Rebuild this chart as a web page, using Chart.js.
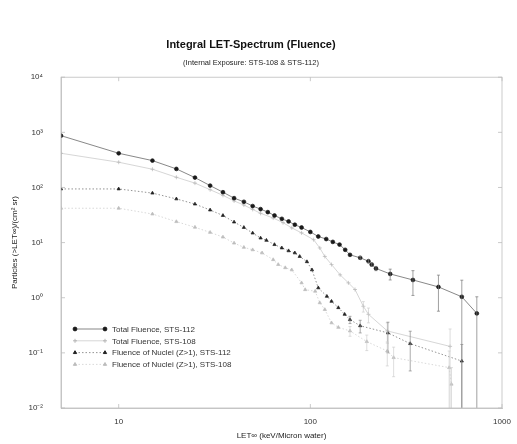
<!DOCTYPE html>
<html>
<head>
<meta charset="utf-8">
<script src="https://cdn.jsdelivr.net/npm/chart.js@4/dist/chart.umd.min.js"></script>
<style>
  html, body { margin: 0; padding: 0; background: #fff; }
  canvas { display: block; }
</style>
</head>
<body>
<canvas id="c" width="517" height="444"></canvas>
<script>
// ── DATOS ──────────────────────────────────────
const SERIES_NAMES = [
  'Total Fluence, STS-112',
  'Total Fluence, STS-108',
  'Fluence of Nuclei (Z>1), STS-112',
  'Fluence of Nuclei (Z>1), STS-108'
];

// Total Fluence, STS-112
const tot112X = [5,10,15,20,25,30,35,40,45,50,55,60,65,71,77,83,90,100,110,121,131,142,152,161,182,201,209,220,261,343,466,617,739];
const tot112Y = [870,417,307,217,151,108,82,64,55,46,40.5,35.7,31,27,24.2,21.1,18.8,15.6,12.9,11.6,10.3,9.2,7.4,6.0,5.3,4.6,4.0,3.4,2.7,2.1,1.57,1.04,0.52];
const tot112E = [0,0,0,0,0,0,0,0,0,0,0,0,0,0,0,0,0,0,0,0,0,0,0,0,0.3,0.3,0.3,0.3,0.6,1.0,1.0,1.04,0.52];

// Total Fluence, STS-108
const tot108X = [5,10,15,20,25,30,35,40,45,50,55,64,72,80,90,104,112,119,129,143,158,171,189,201,252,536];
const tot108Y = [417,287,214,153,120,91,72,57,48,40,34,27.9,23,18.5,15,11.3,8.0,5.6,4.0,2.6,1.86,1.41,0.70,0.50,0.25,0.131];
const tot108E = [0,0,0,0,0,0,0,0,0,0,0,0,0,0,0,0,0,0,0,0,0,0,0.15,0.15,0.1,0.14];

// Fluence of Nuclei (Z>1), STS-112
const nuc112X = [5,10,15,20,25,30,35,40,45,50,55,59,65,71,77,83,88,96,102,110,122,129,140,151,161,182,254,332,617];
const nuc112Y = [94,94,79,62,50,39,31,23.6,18.8,14.9,12.1,11.0,9.2,8.0,7.1,6.5,5.6,4.5,3.2,1.51,1.06,0.86,0.66,0.50,0.40,0.31,0.23,0.147,0.071];
const nuc112E = [0,0,0,0,0,0,0,0,0,0,0,0,0,0,0,0,0,0,0,0,0,0,0,0,0.06,0.08,0.13,0.1,0.071];

// Fluence of Nuclei (Z>1), STS-108
const nuc108X = [5,10,15,20,25,30,35,40,45,50,56,64,68,74,80,90,94,106,112,119,129,140,161,197,252,272,530,545];
const nuc108Y = [42,42,33,24,19,15.3,12.6,9.8,8.2,7.4,6.5,4.9,4.0,3.5,3.2,1.86,1.4,1.31,0.81,0.61,0.35,0.29,0.25,0.16,0.108,0.082,0.054,0.027];
const nuc108E = [0,0,0,0,0,0,0,0,0,0,0,0,0,0,0,0,0,0,0,0,0,0,0.05,0.05,0.05,0.045,0.054,0.027];

// ejes
const X_TICKS = [10, 100, 1000];
const Y_TICKS = [1e-2, 1e-1, 1e0, 1e1, 1e2, 1e3, 1e4];
const Y_LABELS = ['10⁻²', '10⁻¹', '10⁰', '10¹', '10²', '10³', '10⁴'];

const FONT = '"Liberation Sans", Arial, sans-serif';

function puntos(xs, ys) {
  return xs.map((x, i) => ({ x: x, y: ys[i] }));
}

// ── PLUGINS ────────────────────────────────────
// caja alrededor del área + ticks hacia adentro (estilo MATLAB)
const cajaPlugin = {
  id: 'caja',
  afterDraw(chart) {
    const { ctx, chartArea: a, scales } = chart;
    ctx.save();
    ctx.strokeStyle = '#bdbdbd';
    ctx.lineWidth = 0.8;
    ctx.strokeRect(a.left, a.top, a.right - a.left, a.bottom - a.top);
    ctx.beginPath();
    X_TICKS.forEach(v => {
      const px = scales.x.getPixelForValue(v);
      ctx.moveTo(px, a.bottom); ctx.lineTo(px, a.bottom - 4);
      ctx.moveTo(px, a.top); ctx.lineTo(px, a.top + 4);
    });
    Y_TICKS.forEach(v => {
      const py = scales.y.getPixelForValue(v);
      ctx.moveTo(a.left, py); ctx.lineTo(a.left + 4, py);
      ctx.moveTo(a.right, py); ctx.lineTo(a.right - 4, py);
    });
    ctx.stroke();
    ctx.restore();
  }
};

// barras de error verticales
const errorPlugin = {
  id: 'errores',
  afterDatasetsDraw(chart) {
    const { ctx, chartArea: a, scales } = chart;
    ctx.save();
    ctx.beginPath();
    ctx.rect(a.left, a.top, a.right - a.left, a.bottom - a.top);
    ctx.clip();
    chart.data.datasets.forEach(ds => {
      ctx.strokeStyle = ds.errColor;
      ctx.lineWidth = 0.7;
      ds.data.forEach((p, i) => {
        const e = ds.err[i];
        if (!e) return;
        const px = scales.x.getPixelForValue(p.x);
        const top = scales.y.getPixelForValue(p.y + e);
        const lo = p.y - e;
        const bot = lo > 0 ? scales.y.getPixelForValue(lo) : a.bottom + 2;
        ctx.beginPath();
        ctx.moveTo(px, top); ctx.lineTo(px, bot);
        ctx.moveTo(px - 1.5, top); ctx.lineTo(px + 1.5, top);
        if (lo > 0) { ctx.moveTo(px - 1.5, bot); ctx.lineTo(px + 1.5, bot); }
        ctx.stroke();
      });
    });
    ctx.restore();
  }
};

// leyenda dentro del gráfico, abajo a la izquierda
const leyendaPlugin = {
  id: 'leyenda',
  afterDraw(chart) {
    const { ctx, chartArea: a } = chart;
    ctx.save();
    ctx.font = '8px ' + FONT;
    ctx.textBaseline = 'middle';
    chart.data.datasets.forEach((ds, i) => {
      const y = a.bottom - 79 + i * 11.8;
      const x0 = a.left + 14, x1 = a.left + 44;
      ctx.strokeStyle = ds.borderColor;
      ctx.lineWidth = ds.borderWidth;
      ctx.setLineDash(ds.borderDash || []);
      ctx.beginPath(); ctx.moveTo(x0, y); ctx.lineTo(x1, y); ctx.stroke();
      ctx.setLineDash([]);
      ctx.fillStyle = ds.pointBackgroundColor;
      ctx.strokeStyle = ds.pointBorderColor;
      ctx.lineWidth = 1;
      [x0, x1].forEach(x => Chart.helpers.drawPoint(ctx, {
        pointStyle: ds.pointStyle, radius: ds.pointRadius, rotation: 0, borderWidth: 1
      }, x, y));
      ctx.fillStyle = '#333';
      ctx.fillText(SERIES_NAMES[i], a.left + 51, y + 0.5);
    });
    ctx.restore();
  }
};

// ── GRÁFICO ────────────────────────────────────
new Chart(document.getElementById('c'), {
  type: 'scatter',
  data: {
    datasets: [
      {
        label: SERIES_NAMES[0],
        data: puntos(tot112X, tot112Y),
        err: tot112E,
        errColor: '#777',
        showLine: true,
        borderColor: '#555',
        borderWidth: 0.7,
        pointStyle: 'circle',
        pointRadius: 1.9,
        pointBackgroundColor: '#1a1a1a',
        pointBorderColor: '#1a1a1a'
      },
      {
        label: SERIES_NAMES[1],
        data: puntos(tot108X, tot108Y),
        err: tot108E,
        errColor: '#cfcfcf',
        showLine: true,
        borderColor: '#c4c4c4',
        borderWidth: 0.7,
        pointStyle: 'cross',
        pointRadius: 2,
        pointBackgroundColor: '#b5b5b5',
        pointBorderColor: '#b5b5b5'
      },
      {
        label: SERIES_NAMES[2],
        data: puntos(nuc112X, nuc112Y),
        err: nuc112E,
        errColor: '#888',
        showLine: true,
        borderColor: '#666',
        borderWidth: 0.7,
        borderDash: [1.5, 2],
        pointStyle: 'triangle',
        pointRadius: 1.9,
        pointBackgroundColor: '#222',
        pointBorderColor: '#222'
      },
      {
        label: SERIES_NAMES[3],
        data: puntos(nuc108X, nuc108Y),
        err: nuc108E,
        errColor: '#cfcfcf',
        showLine: true,
        borderColor: '#c8c8c8',
        borderWidth: 0.7,
        borderDash: [1.5, 2],
        pointStyle: 'triangle',
        pointRadius: 1.9,
        pointBackgroundColor: '#bdbdbd',
        pointBorderColor: '#bdbdbd'
      }
    ]
  },
  options: {
    responsive: false,
    animation: false,
    devicePixelRatio: 1,
    layout: { padding: { left: 0, right: 15, top: 0, bottom: 0 } },
    plugins: {
      legend: { display: false },
      tooltip: { enabled: false },
      title: {
        display: true,
        text: 'Integral LET-Spectrum (Fluence)',
        color: '#111',
        font: { family: FONT, size: 11, weight: 'bold' },
        padding: { top: 38, bottom: 7 }
      },
      subtitle: {
        display: true,
        text: '(Internal Exposure: STS-108 & STS-112)',
        color: '#222',
        font: { family: FONT, size: 7.5 },
        padding: { top: 0, bottom: 10 }
      }
    },
    scales: {
      x: {
        type: 'logarithmic',
        min: 5,
        max: 1000,
        afterBuildTicks: s => { s.ticks = X_TICKS.map(v => ({ value: v })); },
        afterFit: s => { s.height = 36; },
        grid: { display: false },
        border: { display: true, color: '#bdbdbd', width: 0.8 },
        ticks: {
          color: '#333',
          font: { family: FONT, size: 8 },
          padding: 1,
          maxRotation: 0,
          callback: v => String(v)
        },
        title: {
          display: true,
          text: 'LET∞ (keV/Micron water)',
          color: '#222',
          font: { family: FONT, size: 8 },
          padding: { top: 2, bottom: 3 }
        }
      },
      y: {
        type: 'logarithmic',
        min: 1e-2,
        max: 1e4,
        afterBuildTicks: s => { s.ticks = Y_TICKS.map(v => ({ value: v })); },
        afterFit: s => { s.width = 61; },
        grid: { display: false },
        border: { display: true, color: '#bdbdbd', width: 0.8 },
        ticks: {
          color: '#333',
          font: { family: FONT, size: 8 },
          padding: 10,
          callback: v => Y_LABELS[Y_TICKS.indexOf(v)]
        },
        title: {
          display: true,
          text: 'Particles (>LET∞)/(cm² sr)',
          color: '#222',
          font: { family: FONT, size: 8 },
          padding: { top: 10, bottom: 0 }
        }
      }
    }
  },
  plugins: [cajaPlugin, errorPlugin, leyendaPlugin]
});
</script>
</body>
</html>
